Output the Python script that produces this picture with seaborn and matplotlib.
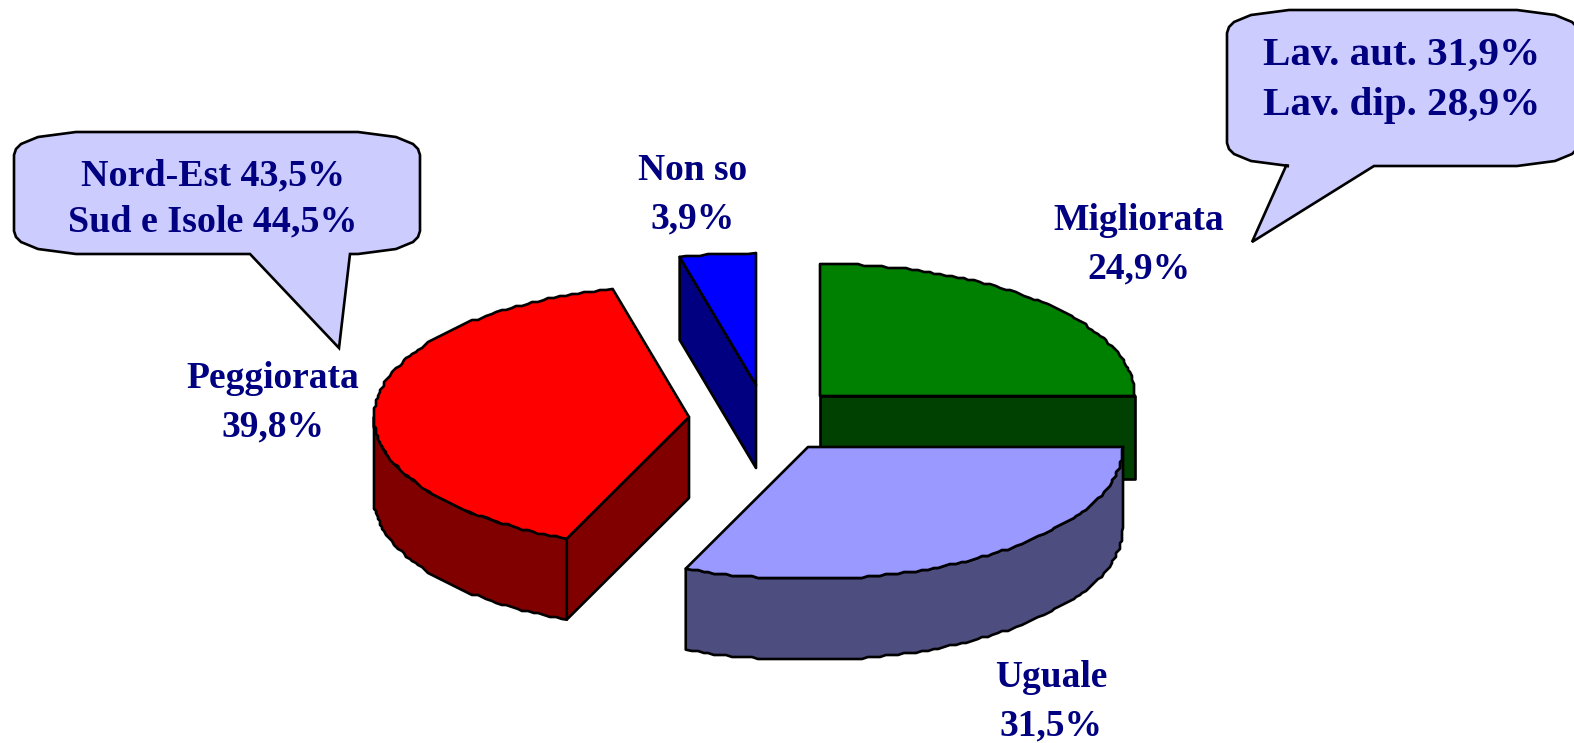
"""Exploded 3D-look pie chart with two callouts."""

import matplotlib.pyplot as plt
import numpy as np
import seaborn as sns

categories = ["Migliorata", "Uguale", "Peggiorata", "Non so"]
shares = [24.9, 31.5, 39.8, 3.9]

top_colors = ["#008000", "#9999FF", "#FF0000", "#0000FF"]
side_colors = ["#004000", "#4D4D80", "#800000", "#000080"]

# slice apex on the canvas, after the explosion
apexes = [(820, 396), (808, 447), (689, 417), (756, 385)]
depths = [83, 81, 81, 83]
label_xy = [(1139, 245), (1051, 702), (273, 403), (693, 195)]

callout_west = [("Nord-Est", 43.5), ("Sud e Isole", 44.5)]
callout_east = [("Lav. aut.", 31.9), ("Lav. dip.", 28.9)]

RADIUS_X = 315
RADIUS_Y = 132
TEXT_COLOR = "#000080"
CALLOUT_FILL = "#CCCCFF"
LINE_WIDTH = 1.9


def pct(value):
    return f"{value:.1f}%".replace(".", ",")


def arc_points(apex, start, stop):
    """Outer rim between two angles, clockwise from 12 o'clock, wobbly like the source."""
    count = max(int((stop - start) * 0.9), 4)
    theta = np.radians(np.linspace(start, stop, count))
    x = apex[0] + RADIUS_X * np.sin(theta)
    y = apex[1] - RADIUS_Y * np.cos(theta)
    x_step = np.round(x / 2) * 2
    y_step = np.round(y / 2) * 2
    x_step[[0, -1]] = x[[0, -1]]
    y_step[[0, -1]] = y[[0, -1]]
    return x_step, y_step


def draw_slice(ax, apex, start, stop, depth, top, side):
    style = {"edgecolor": "black", "linewidth": LINE_WIDTH, "joinstyle": "round"}

    # radial faces only show when they turn towards the viewer
    for angle, visible in ((start, np.sin(np.radians(start)) < -1e-6),
                           (stop, np.sin(np.radians(stop)) > 1e-6)):
        if visible:
            rim_x = apex[0] + RADIUS_X * np.sin(np.radians(angle))
            rim_y = apex[1] - RADIUS_Y * np.cos(np.radians(angle))
            ax.fill([apex[0], rim_x, rim_x, apex[0]],
                    [apex[1], rim_y, rim_y + depth, apex[1] + depth],
                    facecolor=side, **style)

    # outer wall, front half of the rim only
    wall_start, wall_stop = max(start, 90), min(stop, 270)
    if wall_start < wall_stop:
        x, y = arc_points(apex, wall_start, wall_stop)
        ax.fill(np.r_[x, x[::-1]], np.r_[y, y[::-1] + depth], facecolor=side, **style)

    x, y = arc_points(apex, start, stop)
    ax.fill(np.r_[apex[0], x], np.r_[apex[1], y], facecolor=top, **style)


def draw_callout(ax, left, right, top, bottom, tail, lines, text_x, text_y, size, gap):
    """Rounded speech bubble; tail is (base_left, tip_x, tip_y, base_right)."""
    base_left, tip_x, tip_y, base_right = tail
    xs = [left, left + 2, left + 7, left + 24, left + 62, right - 62, right - 24, right - 7,
          right - 2, right, right, right - 2, right - 7, right - 24, right - 62, base_right,
          tip_x, base_left, left + 62, left + 24, left + 7, left + 2, left]
    ys = [top + 23, top + 17, top + 12, top + 5, top, top, top + 5, top + 12,
          top + 17, top + 23, bottom - 23, bottom - 17, bottom - 12, bottom - 5, bottom, bottom,
          tip_y, bottom, bottom, bottom - 5, bottom - 12, bottom - 17, bottom - 23]
    ax.fill(xs, ys, facecolor=CALLOUT_FILL, edgecolor="black", linewidth=LINE_WIDTH)
    for i, (name, value) in enumerate(lines):
        ax.text(text_x, text_y + i * gap, f"{name} {pct(value)}", ha="center", va="center",
                color=TEXT_COLOR, fontsize=size, fontweight="bold")


sns.set_theme(style="white")
plt.rcParams["font.family"] = ["Liberation Serif", "DejaVu Serif"]

figure = plt.figure(figsize=(15.74, 7.43), dpi=100, facecolor="white")
ax = figure.add_axes([0, 0, 1, 1])
ax.set_xlim(0, 1574)
ax.set_ylim(743, 0)
ax.axis("off")

edges = np.cumsum([0] + shares) / sum(shares) * 360
edges = np.where(np.abs(edges - 90) < 1, 90, edges)
for i in range(len(categories)):
    draw_slice(ax, apexes[i], edges[i], edges[i + 1], depths[i], top_colors[i], side_colors[i])

for name, share, (x, y) in zip(categories, shares, label_xy):
    ax.text(x, y, f"{name}\n{pct(share)}", ha="center", va="center", color=TEXT_COLOR,
            fontsize=27, fontweight="bold", linespacing=1.5)

draw_callout(ax, 14, 420, 132, 254, (250, 339, 348, 350), callout_west, 213, 176, 27.4, 46)
draw_callout(ax, 1227, 1579, 10, 166, (1286, 1252, 242, 1374), callout_east, 1402, 55, 29.6, 50)

figure.savefig("out.png", dpi=100)
plt.close(figure)
